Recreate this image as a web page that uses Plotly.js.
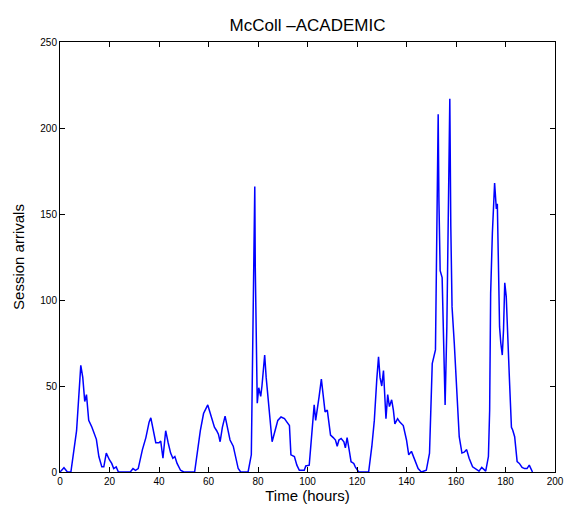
<!DOCTYPE html>
<html>
<head>
<meta charset="utf-8">
<script src="https://cdn.plot.ly/plotly-3.0.1.min.js"></script>
<style>
  html, body { margin: 0; padding: 0; background: #fff; }
  #chart { width: 565px; height: 509px; }
</style>
</head>
<body>
<div id="chart"></div>
<script>
// Time in hours
const timeHours = [
  0, 1.6, 3, 4.4, 6.7, 8.4, 9.2, 10, 10.7, 11.6, 12.9, 14.7, 15.7, 16.9, 17.7, 18.7,
  20, 20.9, 21.7, 22.7, 23.6, 28.4, 29.5, 30.5, 31.6, 33.3, 34.7, 36, 36.7, 37.7, 38.7,
  40, 40.7, 41.6, 42.7, 43.7, 44.7, 45.6, 46.4, 47.3, 48.7, 50, 54.4, 56.7, 58, 59.7,
  61, 62.4, 63.3, 64, 64.7, 65.6, 66.7, 67.7, 68.7, 70, 71.3, 72, 73, 76, 77.3, 78,
  78.7, 78.9, 79.2, 79.7, 80.3, 81.1, 81.6, 82.7, 83.3, 84.3, 85, 85.7, 86.7, 88,
  89.3, 90.7, 91.7, 92.7, 93.3, 94.7, 95.7, 96.7, 98.7, 99.3, 100.7, 101.6, 102.7,
  103.3, 104, 104.7, 105.6, 106.4, 107.1, 108, 108.7, 109.3, 110.4, 111.3, 112,
  112.7, 113.6, 114.7, 115.3, 116, 116.7, 117.6, 118.7, 119.3, 120.7, 124.7, 126,
  127, 128, 128.7, 129.3, 130, 130.7, 131.3, 131.7, 132.4, 133.1, 134, 134.7, 135.3,
  136.4, 137.3, 138.7, 140, 140.9, 142, 143.3, 144.7, 146, 148, 149.3, 150.4, 151.7,
  152, 152.4, 152.8, 153.1, 153.6, 154.4, 155.1, 155.6, 156.3, 156.9, 157.5, 157.9,
  158.4, 159.3, 160.3, 161.3, 162.4, 163.3, 164.3, 165.3, 166.7, 168, 169.3, 170.4,
  172, 173.1, 173.6, 174, 174.7, 175.6, 176.3, 176.7, 177.1, 177.6, 178.1, 178.7,
  179.2, 179.7, 180.3, 180.8, 181.6, 182.4, 182.9, 183.7, 184.7, 185.6, 186.7, 187.7,
  188.7, 189.6, 190.4, 190.9
];
// Session arrivals
const sessionArrivals = [
  0, 2.5, 0, 0, 24, 62, 55, 41, 45, 30, 26, 19, 9, 3, 3, 11,
  7, 5, 2, 3, 0, 0, 2, 1, 2, 13, 20, 29, 31.5, 24, 17,
  17, 18, 8, 24, 17, 11, 8, 9, 5, 1, 0, 0, 24, 34, 39,
  33, 26, 24, 22, 17.6, 26, 32.5, 26, 18.6, 15, 7, 2, 0, 0, 10, 79,
  166, 119, 79, 40, 49, 44, 50, 68, 55, 38, 26, 17.6, 23, 30,
  32, 31, 29, 27, 10, 9, 4, 1, 1, 3.5, 4, 20, 39,
  30, 36, 44, 54, 43, 35, 36, 29, 21.5, 20, 18.6, 15,
  18.6, 19.5, 17.6, 14, 20, 14, 6, 5, 3, 0, 0, 15,
  30, 54, 67, 55, 50, 59, 44, 31, 45, 38, 42, 36, 28,
  31, 29, 27, 18.6, 10, 12, 7, 2, 0, 1, 11, 63, 71,
  110, 181, 208, 158, 117, 113, 75, 39, 84, 143, 217, 143,
  96, 75, 44, 20.5, 11, 11.5, 13, 8, 3, 1.5, 0.5, 2.7,
  0.5, 9, 36, 104, 139, 168, 153, 156, 129, 84.5, 75, 68,
  82.5, 110, 102, 79, 53.5, 26, 24.4, 20.5, 6, 5, 2.7, 2,
  2, 4, 1, 0
];
const xTicks = [0, 20, 40, 60, 80, 100, 120, 140, 160, 180, 200];
const yTicks = [0, 50, 100, 150, 200, 250];

const trace = {
  x: timeHours,
  y: sessionArrivals,
  type: 'scatter',
  mode: 'lines',
  line: { color: '#0000ff', width: 1.5 },
  hoverinfo: 'x+y'
};

const axisCommon = {
  showgrid: false,
  zeroline: false,
  showline: true,
  linecolor: '#000',
  linewidth: 1,
  mirror: 'ticks',
  ticks: 'inside',
  ticklen: 5,
  tickwidth: 1,
  tickcolor: '#000',
  ticklabeloverflow: 'allow',
  tickfont: { family: 'Liberation Sans, Arial, sans-serif', size: 10, color: '#000' }
};

const layout = {
  width: 565,
  height: 509,
  margin: { l: 60, r: 10, t: 42, b: 37 },
  paper_bgcolor: '#fff',
  plot_bgcolor: '#fff',
  showlegend: false,
  title: {
    text: 'McColl \u2013ACADEMIC',
    font: { family: 'Liberation Sans, Arial, sans-serif', size: 17, color: '#000' },
    x: 0.5, xref: 'paper',
    y: 1 - 25 / 509, yref: 'container', yanchor: 'middle'
  },
  xaxis: Object.assign({}, axisCommon, {
    range: [0, 200],
    tickvals: xTicks,
    ticktext: xTicks.map(String),
    title: {
      text: 'Time (hours)',
      font: { family: 'Liberation Sans, Arial, sans-serif', size: 15, color: '#000' },
      standoff: 2
    }
  }),
  yaxis: Object.assign({}, axisCommon, {
    range: [0, 250],
    tickvals: yTicks,
    ticktext: yTicks.map(String),
    title: {
      text: 'Session arrivals',
      font: { family: 'Liberation Sans, Arial, sans-serif', size: 15, color: '#000' },
      standoff: 12
    }
  })
};

Plotly.newPlot('chart', [trace], layout, { displayModeBar: false, staticPlot: true });
</script>
</body>
</html>
